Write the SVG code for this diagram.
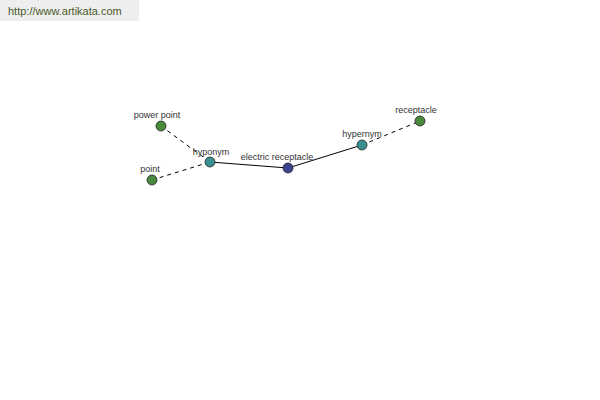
<svg xmlns="http://www.w3.org/2000/svg" width="600" height="400" viewBox="0 0 600 400">
<style>
text{font-family:"Liberation Sans",Arial,sans-serif;font-size:9px;fill:#333;text-anchor:middle}
.e{stroke:#000;stroke-width:1;fill:none}
.d{stroke-dasharray:4,4}
circle{stroke:#222;stroke-width:0.8}
.g{fill:#4a8a3c}
.t{fill:#3a9090}
.n{fill:#3a4590}
</style>
<rect x="0" y="0" width="139" height="21" fill="#eeeeee"/>
<text x="8" y="15" style="font-size:11px;fill:#4a5a2a;text-anchor:start">http://www.artikata.com</text>
<g id="connectors">
<line class="e d" x1="161" y1="126" x2="210" y2="162"/>
<line class="e d" x1="152" y1="180" x2="210" y2="162"/>
<line class="e" x1="210" y1="162" x2="288" y2="168"/>
<line class="e" x1="288" y1="168" x2="362" y2="145"/>
<line class="e d" x1="362" y1="145" x2="420" y2="121"/>
</g>
<g id="power-point"><circle class="g" cx="161" cy="126" r="5"/><text x="157" y="118">power point</text></g>
<g id="point"><circle class="g" cx="152" cy="180" r="5"/><text x="150" y="172">point</text></g>
<g id="hyponym"><circle class="t" cx="210" cy="162" r="5"/><text x="211" y="155">hyponym</text></g>
<g id="electric-receptacle"><circle class="n" cx="288" cy="168" r="5"/><text x="277" y="160">electric receptacle</text></g>
<g id="hypernym"><circle class="t" cx="362" cy="145" r="5"/><text x="362" y="137">hypernym</text></g>
<g id="receptacle"><circle class="g" cx="420" cy="121" r="5"/><text x="416" y="113">receptacle</text></g>
</svg>
